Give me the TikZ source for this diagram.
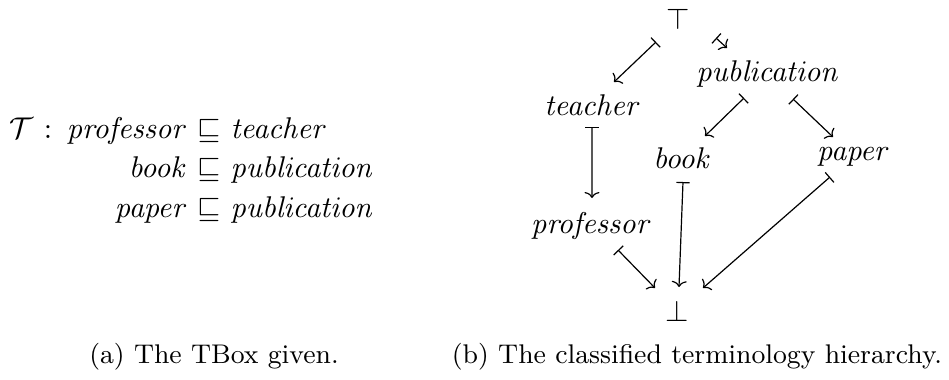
\documentclass[tikz,border=0pt]{standalone}
\usepackage{amsmath,amssymb}
\usetikzlibrary{arrows.meta,calc}
\newcommand\capsz{\small}
\begin{document}
\begin{tikzpicture}[x=0.3333pt,y=-0.3333pt,
  mt/.style={line width=0.4pt, {Bar[width=4.4pt]}-{To[length=2pt,width=5pt]}},
  lab/.style={inner sep=0pt, anchor=base},
  lft/.style={inner sep=0pt, anchor=base east},
  rgt/.style={inner sep=0pt, anchor=base west},
  captext/.style={inner sep=0pt, anchor=base, font=\capsz}]
\useasboundingbox (0,0) rectangle (949,380);
% left: TBox
\node[rgt] (tcal) at (9,138) {$\mathcal{T}$};
\node[lab] (colon) at (48,138) {$:$};
\node[lft] (l1) at (188,138) {$\mathit{professor}$};
\node[lft] (l2) at (188,177.5) {$\mathit{book}$};
\node[lft] (l3) at (188,217) {$\mathit{paper}$};
\node[rgt] (s1) at (196.5,138) {$\sqsubseteq$};
\node[rgt] (s2) at (196.5,177.5) {$\sqsubseteq$};
\node[rgt] (s3) at (196.5,217) {$\sqsubseteq$};
\node[rgt] (r1) at (230,138) {$\mathit{teacher}$};
\node[rgt] (r2) at (230,177.5) {$\mathit{publication}$};
\node[rgt] (r3) at (230,217) {$\mathit{publication}$};
% right: hierarchy
\node[lab] (top) at (678,29) {$\top$};
\node[lab] (pub) at (768,81) {$\mathit{publication}$};
\node[lab] (teach) at (592.5,115) {$\mathit{teacher}$};
\node[lab] (book) at (682.5,168) {$\mathit{book}$};
\node[lab] (paper) at (853.5,160) {$\mathit{paper}$};
\node[lab] (prof) at (591.5,233) {$\mathit{professor}$};
\node[lab] (bot) at (677.5,321) {$\bot$};
\draw[mt] ($(top.base)+(-22,13)$) -- ($(teach.base)+(21.5,-33)$);
\draw[mt] ($(top.base)+(38,9)$) -- ($(pub.base)+(-41,-33)$);
\draw[mt] ($(teach.base)+(-0.5,12)$) -- ($(prof.base)+(0.5,-35)$);
\draw[mt] ($(pub.base)+(-24,17)$) -- ($(book.base)+(22.5,-32)$);
\draw[mt] ($(pub.base)+(25,18)$) -- ($(paper.base)+(-20.5,-23)$);
\draw[mt] ($(book.base)+(0.5,14)$) -- ($(bot.base)+(1.5,-34)$);
\draw[mt] ($(paper.base)+(-23.5,17)$) -- ($(bot.base)+(25.5,-33)$);
\draw[mt] ($(prof.base)+(26.5,17)$) -- ($(bot.base)+(-22.5,-33)$);
% captions
\node[captext] (capa) at (214,363) {(a) The TBox given.};
\node[captext] (capb) at (697,363) {(b) The classified terminology hierarchy.};
\end{tikzpicture}
\end{document}
